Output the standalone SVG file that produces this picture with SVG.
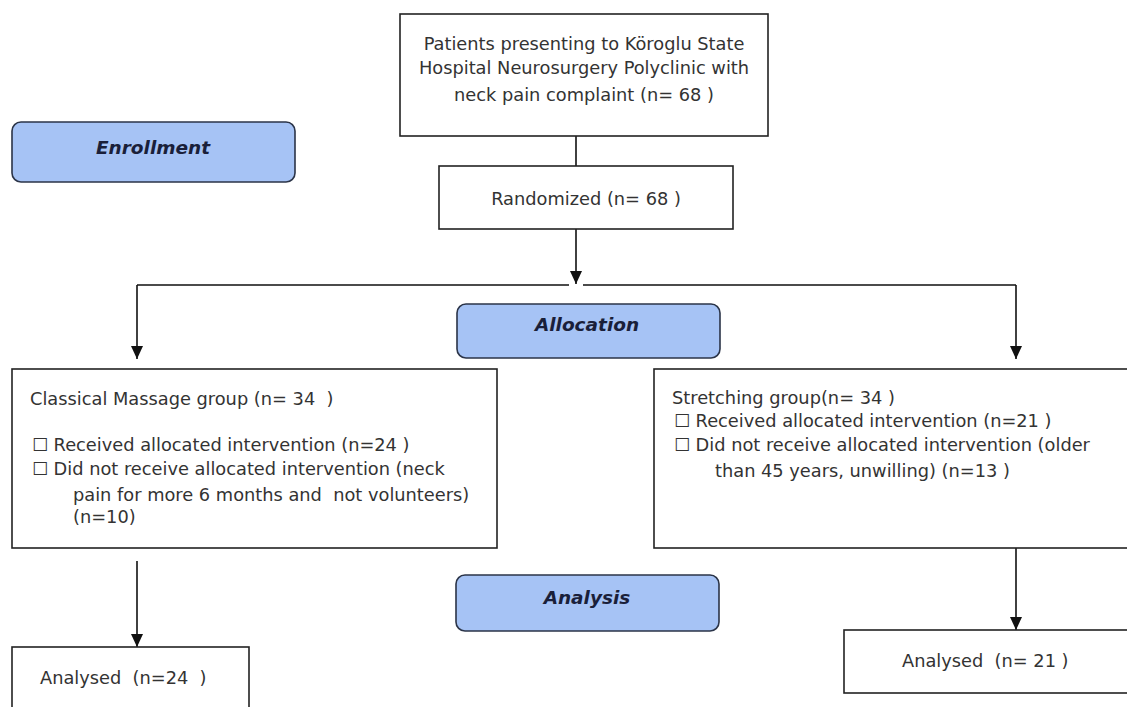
<svg xmlns="http://www.w3.org/2000/svg" width="1127" height="707" viewBox="0 0 1127 707">
<style>
.box{fill:#fff;stroke:#222;stroke-width:1.6}
.phase{fill:#a6c3f5;stroke:#2b3448;stroke-width:1.6}
.t{font-family:"DejaVu Sans","Liberation Sans",sans-serif;font-size:17.8px;fill:#333}
.c{text-anchor:middle}
.ph{font-family:"DejaVu Sans","Liberation Sans",sans-serif;font-size:18.5px;font-weight:bold;font-style:italic;fill:#1a1f3a;text-anchor:middle}
.ln{stroke:#111;stroke-width:1.6;fill:none}
</style>
<defs>
<marker id="ah" markerWidth="13" markerHeight="12" refX="13" refY="6" orient="auto" markerUnits="userSpaceOnUse" viewBox="0 0 13 12">
<path d="M0,0 L13,6 L0,12 Z" fill="#111"/>
</marker>
</defs>
<rect width="1127" height="707" fill="#fff"/>
<g id="connectors">
<path class="ln" d="M576,136 V166"/>
<path class="ln" d="M576,229 V284" marker-end="url(#ah)"/>
<path class="ln" d="M137,285 H569 M583,285 H1016"/>
<path class="ln" d="M137,285 V359" marker-end="url(#ah)"/>
<path class="ln" d="M1016,285 V359" marker-end="url(#ah)"/>
<path class="ln" d="M137,561 V647" marker-end="url(#ah)"/>
<path class="ln" d="M1016,548 V630" marker-end="url(#ah)"/>
</g>
<g id="patients">
<rect class="box" x="400" y="14" width="368" height="122"/>
<text class="t c" x="584" y="50">Patients presenting to Köroglu State</text>
<text class="t c" x="584" y="74">Hospital Neurosurgery Polyclinic with</text>
<text class="t c" x="584" y="101">neck pain complaint (n= 68 )</text>
</g>
<g id="randomized">
<rect class="box" x="439" y="166" width="294" height="63"/>
<text class="t c" x="586" y="205">Randomized (n= 68 )</text>
</g>
<g id="enrollment">
<rect class="phase" x="12" y="122" width="283" height="60" rx="9"/>
<text class="ph" x="153" y="154">Enrollment</text>
</g>
<g id="allocation">
<rect class="phase" x="457" y="304" width="263" height="54" rx="9"/>
<text class="ph" x="587" y="331">Allocation</text>
</g>
<g id="analysis">
<rect class="phase" x="456" y="575" width="263" height="56" rx="9"/>
<text class="ph" x="587" y="604">Analysis</text>
</g>
<g id="massage">
<rect class="box" x="12" y="369" width="485" height="179"/>
<text class="t" x="30" y="405" xml:space="preserve">Classical Massage group (n= 34  )</text>
<text class="t" x="32" y="451" xml:space="preserve">☐ Received allocated intervention (n=24 )</text>
<text class="t" x="32" y="475" xml:space="preserve">☐ Did not receive allocated intervention (neck</text>
<text class="t" x="73" y="501" xml:space="preserve">pain for more 6 months and  not volunteers)</text>
<text class="t" x="73" y="523">(n=10)</text>
</g>
<g id="stretching">
<rect class="box" x="654" y="369" width="480" height="179"/>
<text class="t" x="672" y="404">Stretching group(n= 34 )</text>
<text class="t" x="674" y="427" xml:space="preserve">☐ Received allocated intervention (n=21 )</text>
<text class="t" x="674" y="451" xml:space="preserve">☐ Did not receive allocated intervention (older</text>
<text class="t" x="715" y="477" xml:space="preserve">than 45 years, unwilling) (n=13 )</text>
</g>
<g id="analysed-left">
<rect class="box" x="12" y="647" width="237" height="70"/>
<text class="t" x="40" y="684" xml:space="preserve">Analysed  (n=24  )</text>
</g>
<g id="analysed-right">
<rect class="box" x="844" y="630" width="290" height="63"/>
<text class="t" x="902" y="667" xml:space="preserve">Analysed  (n= 21 )</text>
</g>
</svg>
